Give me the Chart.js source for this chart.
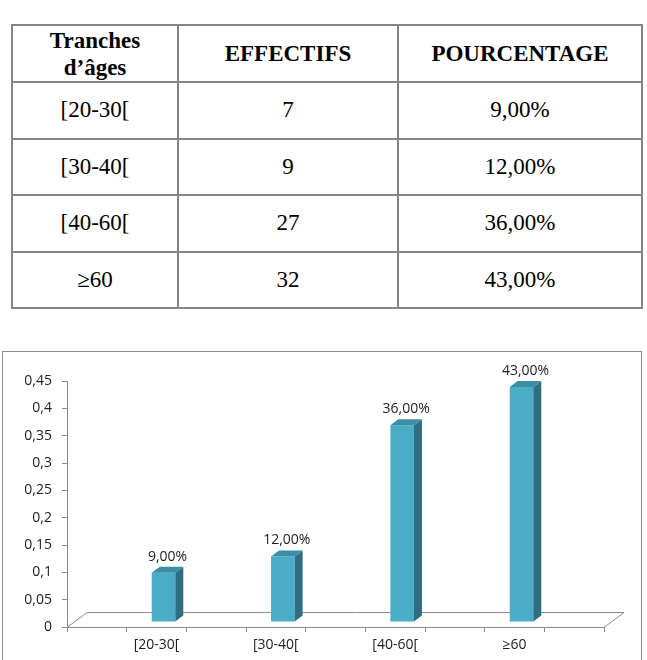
<!DOCTYPE html>
<html><head><meta charset="utf-8">
<script src="https://cdn.jsdelivr.net/npm/chart.js@4.4.0/dist/chart.umd.min.js"></script>
<style>
html,body{margin:0;padding:0;background:#fff;width:647px;height:660px;overflow:hidden;}
#tbl{position:absolute;left:11px;top:24px;border-collapse:collapse;table-layout:fixed;color:#000;}
#tbl td,#tbl th{font-family:'Liberation Serif','Times New Roman',serif;border:2px solid #858585;text-align:center;vertical-align:middle;padding:0;}
#tbl th{font-weight:bold;font-size:23px;line-height:27px;height:55px;}
#tbl td{font-size:23px;height:54.5px;}
#frame{position:absolute;left:2px;top:351px;width:638px;height:330px;border:1px solid #8c8c8c;}
#wrap{position:absolute;left:0;top:351px;width:647px;height:309px;}
</style></head><body>
<table id="tbl"><colgroup><col style="width:166px"><col style="width:220px"><col style="width:244px"></colgroup>
<thead><tr><th>Tranches<br>d’âges</th><th>EFFECTIFS</th><th>POURCENTAGE</th></tr></thead>
<tbody id="tb"></tbody></table>
<div id="frame"></div>
<div id="wrap"><canvas id="c" width="647" height="309"></canvas></div>
<script>
// Table data
const ageGroups = ['[20-30[', '[30-40[', '[40-60[', '≥60'];
const effectifs = [7, 9, 27, 32];
const pourcentages = [0.09, 0.12, 0.36, 0.43];

// Chart data (9 slots, blank slots between the categories as in the original axis)
const chartCategories = ['', '[20-30[', '', '[30-40[', '', '[40-60[', '', '≥60', ''];
const chartValues = [null, 0.09, null, 0.12, null, 0.36, null, 0.43, null];
const yTickMin = 0, yTickMax = 0.45, yTickStep = 0.05;

const fmtPct = v => (v * 100).toFixed(2).replace('.', ',') + '%';

const tb = document.getElementById('tb');
ageGroups.forEach((g, i) => {
  const tr = document.createElement('tr');
  [g, String(effectifs[i]), fmtPct(pourcentages[i])].forEach(t => {
    const td = document.createElement('td'); td.textContent = t; tr.appendChild(td);
  });
  tb.appendChild(tr);
});

const DX = 8, DY = 6, SHIFT_X = 7, SHIFT_Y = -5, FLOOR_DX = 20, FLOOR_DY = 15;
const FRONT = '#4aacc6', SIDE = '#2f6e80', TOP = '#3b8ea5';
const FONT = "'Open Sans', 'Liberation Sans', sans-serif";

const plugin3d = {
  id: 'bars3d',
  beforeDatasetsDraw(chart) {
    const { ctx, chartArea: a } = chart;
    ctx.save();
    ctx.strokeStyle = '#8c8c8c'; ctx.lineWidth = 1;
    const y0 = a.bottom + 0.5;
    ctx.beginPath();
    ctx.moveTo(a.left, y0);
    ctx.lineTo(a.left + FLOOR_DX, y0 - FLOOR_DY);
    ctx.lineTo(a.right + FLOOR_DX, y0 - FLOOR_DY);
    ctx.lineTo(a.right, y0);
    ctx.stroke();
    ctx.restore();
    ctx.save();
    ctx.translate(SHIFT_X, SHIFT_Y);
  },
  afterDatasetsDraw(chart) {
    const ctx = chart.ctx;
    const meta = chart.getDatasetMeta(0);
    meta.data.forEach((bar, i) => {
      const v = chart.data.datasets[0].data[i];
      if (v == null) return;
      const { x, y, base, width } = bar.getProps(['x', 'y', 'base', 'width'], true);
      const l = x - width / 2, r = x + width / 2;
      ctx.fillStyle = SIDE;
      ctx.beginPath();
      ctx.moveTo(r, y); ctx.lineTo(r + DX, y - DY); ctx.lineTo(r + DX, base - DY); ctx.lineTo(r, base);
      ctx.closePath(); ctx.fill();
      ctx.fillStyle = TOP;
      ctx.beginPath();
      ctx.moveTo(l, y); ctx.lineTo(l + DX, y - DY); ctx.lineTo(r + DX, y - DY); ctx.lineTo(r, y);
      ctx.closePath(); ctx.fill();
      ctx.fillStyle = '#222';
      ctx.font = "14px " + FONT;
      ctx.textAlign = 'center'; ctx.textBaseline = 'alphabetic';
      ctx.fillText(fmtPct(v), x + DX / 2, y - 12);
    });
    ctx.restore();
  }
};

new Chart(document.getElementById('c'), {
  type: 'bar',
  data: {
    labels: chartCategories,
    datasets: [{
      data: chartValues,
      backgroundColor: FRONT,
      borderWidth: 0,
      barPercentage: 0.395,
      categoryPercentage: 1.0
    }]
  },
  options: {
    responsive: false,
    animation: false,
    devicePixelRatio: 1,
    layout: { padding: { top: 30, right: 43, left: 0, bottom: 0 } },
    plugins: { legend: { display: false }, tooltip: { enabled: false } },
    scales: {
      x: {
        afterFit(s) { s.height = 33; },
        grid: { drawOnChartArea: false, drawTicks: true, tickLength: 5, color: '#8c8c8c', offset: true },
        border: { display: true, color: '#8c8c8c' },
        ticks: { autoSkip: false, maxRotation: 0, padding: 5, color: '#222', font: { family: FONT, size: 14 } }
      },
      y: {
        min: yTickMin, max: yTickMax,
        afterFit(s) { s.width = 67; },
        grid: { drawOnChartArea: false, drawTicks: true, tickLength: 5, color: '#8c8c8c' },
        border: { display: true, color: '#8c8c8c' },
        ticks: {
          stepSize: yTickStep, padding: 10, color: '#222', font: { family: FONT, size: 14 },
          callback: v => String(Math.round(v * 100) / 100).replace('.', ',')
        }
      }
    }
  },
  plugins: [plugin3d]
});
</script>
</body></html>
